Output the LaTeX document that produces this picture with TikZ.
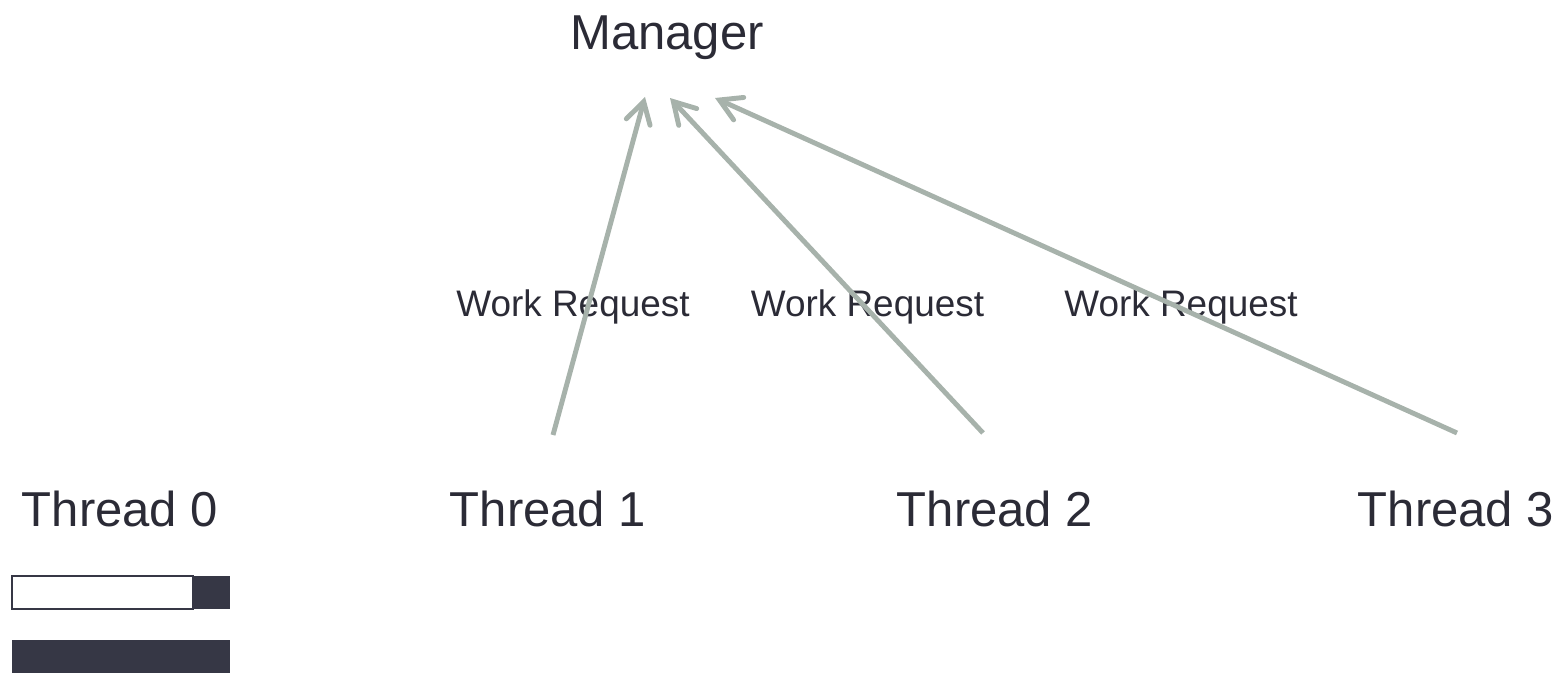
\documentclass[tikz,border=0pt]{standalone}
\usepackage{fontspec}
\setmainfont{Liberation Sans}
\usepackage{tikz}
\usetikzlibrary{arrows.meta, calc, positioning}
\definecolor{txtdark}{HTML}{2B2B36}
\definecolor{bardark}{HTML}{363745}
\definecolor{reqgray}{HTML}{A7B2AB}

\begin{document}
\begin{tikzpicture}[>={Straight Barb[length=12pt,width=14pt,line cap=round]},
    big/.style={anchor=base, text=txtdark, inner sep=0pt, font=\fontsize{27.9}{33}\selectfont},
    small/.style={anchor=base, text=txtdark, inner sep=0pt, font=\fontsize{21}{25}\selectfont},
    req/.style={->, reqgray, line width=2.8pt}]
    \useasboundingbox (0,0) rectangle (31.14,13.46);

    % Manager
    \node[big] (manager) at (13.34,12.46) {Manager};

    % Threads
    \node[big] (thread0) at (2.40,2.92) {Thread 0};
    \node[big] (thread1) at (10.96,2.92) {Thread 1};
    \node[big] (thread2) at (19.90,2.92) {Thread 2};
    \node[big] (thread3) at (29.12,2.92) {Thread 3};

    % Labels
    \node[small] (req1) at (11.46,7.12) {Work Request};
    \node[small] (req2) at (17.35,7.12) {Work Request};
    \node[small] (req3) at (23.62,7.12) {Work Request};

    % Request ends
    \coordinate (from1) at (11.06,4.76);
    \coordinate (from2) at (19.66,4.80);
    \coordinate (from3) at (29.14,4.80);
    \coordinate (to1) at (12.90,11.52);
    \coordinate (to2) at (13.40,11.50);
    \coordinate (to3) at (14.30,11.50);

    % Requests
    \draw[req] (from1) -- (to1);
    \draw[req] (from2) -- (to2);
    \draw[req] (from3) -- (to3);

    % Queues of thread 0
    \draw[bardark, line width=0.8pt, fill=white] (0.24,1.28) rectangle (3.86,1.94);
    \fill[bardark] (3.86,1.28) rectangle (4.60,1.94);
    \fill[bardark] (0.24,0) rectangle (4.60,0.66);
\end{tikzpicture}
\end{document}
